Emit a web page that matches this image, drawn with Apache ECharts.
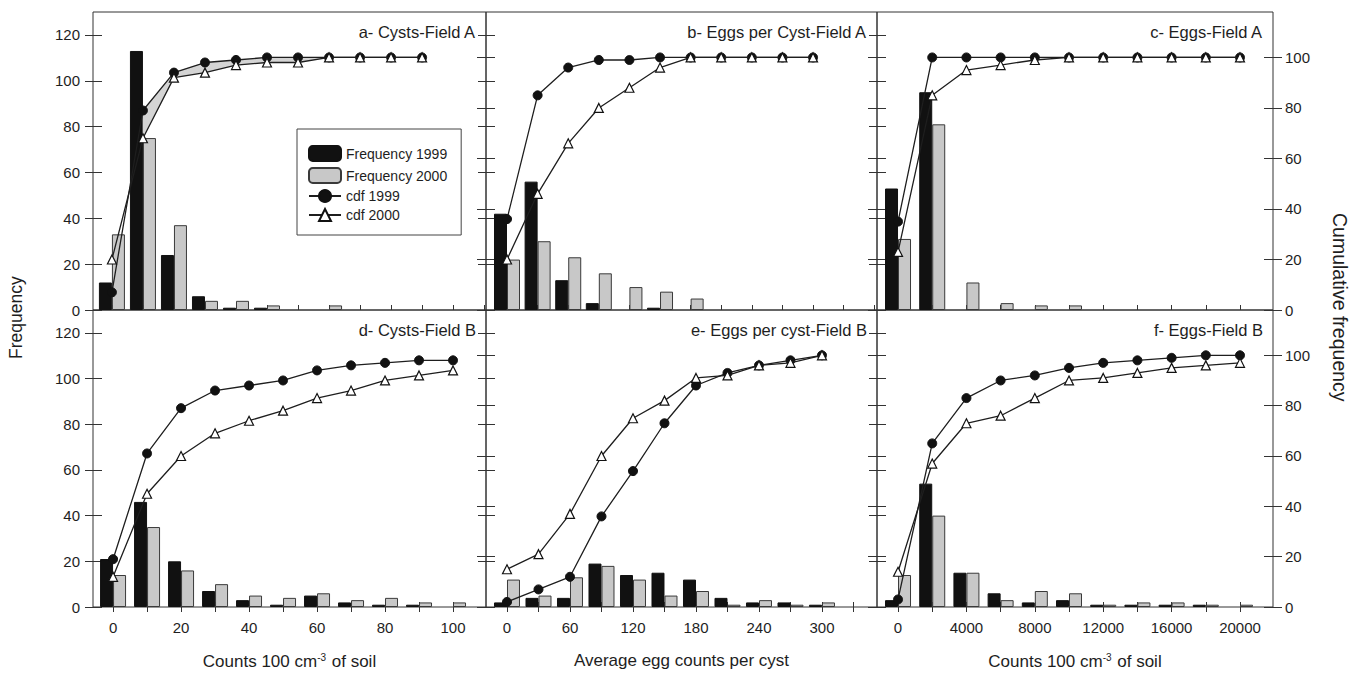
<!DOCTYPE html>
<html>
<head>
<meta charset="utf-8">
<script src="https://cdn.jsdelivr.net/npm/echarts@6/dist/echarts.min.js"></script>
<style>
  html, body { margin: 0; padding: 0; background: #fff; }
  #chart { width: 1355px; height: 674px; }
</style>
</head>
<body>
<div id="chart"></div>
<script>
// bin positions of each kind of panel
const xCysts = [0, 10, 20, 30, 40, 50, 60, 70, 80, 90, 100];
const xEggsPerCyst = [0, 30, 60, 90, 120, 150, 180, 210, 240, 270, 300];
const xEggs = [0, 2000, 4000, 6000, 8000, 10000, 12000, 14000, 16000, 18000, 20000];

// a- Cysts-Field A
const freqA99 = [12, 113, 24, 6, 1, 1, 0, 0, 0, 0, 0];
const freqA00 = [33, 75, 37, 4, 4, 2, 0, 2, 0, 0, 0];
const cdfA99 = [7, 79, 94, 98, 99, 100, 100, 100, 100, 100, 100];
const cdfA00 = [20, 68, 92, 94, 97, 98, 98, 100, 100, 100, 100];

// b- Eggs per Cyst-Field A
const freqB99 = [42, 56, 13, 3, 0, 1, 0, 0, 0, 0, 0];
const freqB00 = [22, 30, 23, 16, 10, 8, 5, 0, 0, 0, 0];
const cdfB99 = [36, 85, 96, 99, 99, 100, 100, 100, 100, 100, 100];
const cdfB00 = [20, 46, 66, 80, 88, 96, 100, 100, 100, 100, 100];

// c- Eggs-Field A
const freqC99 = [53, 95, 0, 0, 0, 0, 0, 0, 0, 0, 0];
const freqC00 = [31, 81, 12, 3, 2, 2, 0, 0, 0, 0, 0];
const cdfC99 = [35, 100, 100, 100, 100, 100, 100, 100, 100, 100, 100];
const cdfC00 = [23, 85, 95, 97, 99, 100, 100, 100, 100, 100, 100];

// d- Cysts-Field B
const freqD99 = [21, 46, 20, 7, 3, 1, 5, 2, 1, 1, 0];
const freqD00 = [14, 35, 16, 10, 5, 4, 6, 3, 4, 2, 2];
const cdfD99 = [19, 61, 79, 86, 88, 90, 94, 96, 97, 98, 98];
const cdfD00 = [12, 45, 60, 69, 74, 78, 83, 86, 90, 92, 94];

// e- Eggs per cyst-Field B
const freqE99 = [2, 4, 4, 19, 14, 15, 12, 4, 2, 2, 1];
const freqE00 = [12, 5, 13, 18, 12, 5, 7, 1, 3, 1, 2];
const cdfE99 = [2, 7, 12, 36, 54, 73, 88, 93, 96, 98, 100];
const cdfE00 = [15, 21, 37, 60, 75, 82, 91, 92, 96, 97, 100];

// f- Eggs-Field B
const freqF99 = [3, 54, 15, 6, 2, 3, 1, 1, 1, 1, 0];
const freqF00 = [14, 40, 15, 3, 7, 6, 1, 2, 2, 1, 1];
const cdfF99 = [3, 65, 83, 90, 92, 95, 97, 98, 99, 100, 100];
const cdfF00 = [14, 57, 73, 76, 83, 90, 91, 93, 95, 96, 97];

// tick values
const freqTicks = [0, 20, 40, 60, 80, 100, 120];
const cdfTicks = [0, 20, 40, 60, 80, 100];
const cystTicksTop = [0, 10, 20, 30, 40, 50, 60, 70, 80, 90, 100, 110, 120];
const cystTicks = [0, 10, 20, 30, 40, 50, 60, 70, 80, 90, 100];
const cystLabels = [0, 20, 40, 60, 80, 100];
const eggCystTicksTop = [0, 30, 60, 90, 120, 150, 180, 210, 240, 270, 300, 330, 360];
const eggCystTicks = [0, 30, 60, 90, 120, 150, 180, 210, 240, 270, 300, 330];
const eggCystLabels = [0, 60, 120, 180, 240, 300];
const eggTicks = [0, 2000, 4000, 6000, 8000, 10000, 12000, 14000, 16000, 18000, 20000];
const eggLabels = [0, 4000, 8000, 12000, 16000, 20000];

const FONT = '"Liberation Sans", Arial, sans-serif';
const INK = '#1e1e1e';

const colX = [93, 486, 877, 1273];
const rowY = [12, 310, 607];

const panels = [
  { title: 'a- Cysts-Field A', x: xCysts, f99: freqA99, f00: freqA00, c99: cdfA99, c00: cdfA00,
    col: 0, row: 0, min: -6.1, max: 120.6, ticks: cystTicksTop, band: true },
  { title: 'b- Eggs per Cyst-Field A', x: xEggsPerCyst, f99: freqB99, f00: freqB00, c99: cdfB99, c00: cdfB00,
    col: 1, row: 0, min: -20.6, max: 362.7, ticks: eggCystTicksTop },
  { title: 'c- Eggs-Field A', x: xEggs, f99: freqC99, f00: freqC00, c99: cdfC99, c00: cdfC00,
    col: 2, row: 0, min: -1230, max: 21930, ticks: eggTicks },
  { title: 'd- Cysts-Field B', x: xCysts, f99: freqD99, f00: freqD00, c99: cdfD99, c00: cdfD00,
    col: 0, row: 1, min: -5.9, max: 109.7, ticks: cystTicks, labels: cystLabels,
    name: 'Counts 100 cm{sup|-3} of soil' },
  { title: 'e- Eggs per cyst-Field B', x: xEggsPerCyst, f99: freqE99, f00: freqE00, c99: cdfE99, c00: cdfE00,
    col: 1, row: 1, min: -20, max: 352.4, ticks: eggCystTicks, labels: eggCystLabels,
    name: 'Average egg counts per cyst' },
  { title: 'f- Eggs-Field B', x: xEggs, f99: freqF99, f00: freqF00, c99: cdfF99, c00: cdfF00,
    col: 2, row: 1, min: -1230, max: 21930, ticks: eggTicks, labels: eggLabels,
    name: 'Counts 100 cm{sup|-3} of soil' }
];

const tickStyle = { color: '#333', width: 1 };
const labelStyle = { color: INK, fontFamily: FONT, fontSize: 15, formatter: (v) => String(v) };
const noLine = { show: false, onZero: false };

const grids = [], xAxes = [], yAxes = [], series = [], titles = [];

panels.forEach((p, i) => {
  const left = colX[p.col], right = colX[p.col + 1];
  const top = rowY[p.row], bottom = rowY[p.row + 1];
  grids.push({
    left: left, top: top, width: right - left, height: bottom - top,
    show: true, borderColor: '#333', borderWidth: 1, backgroundColor: 'transparent',
    outerBoundsMode: 'none', containLabel: false
  });

  titles.push({
    text: p.title, right: 1355 - right + 5, top: top + 6,
    textStyle: { fontFamily: FONT, fontWeight: 'normal', fontSize: 16.5, color: INK }
  });

  const isBottom = p.row === 1;
  // main x axis
  xAxes.push({
    type: 'value', gridIndex: i, min: p.min, max: p.max, position: 'bottom',
    splitLine: { show: false }, axisLine: noLine,
    axisTick: { show: true, inside: !isBottom, length: 5, lineStyle: tickStyle, customValues: p.ticks },
    axisLabel: isBottom
      ? Object.assign({ show: true, margin: 13, customValues: p.labels }, labelStyle)
      : { show: false },
    name: isBottom ? p.name : '', nameLocation: 'middle', nameGap: 45,
    nameTextStyle: {
      fontFamily: FONT, fontSize: 17, color: INK,
      rich: { sup: { fontFamily: FONT, fontSize: 10, color: INK, padding: [0, 1, 9, 0] } }
    }
  });
  // second x axis, only for the crossing ticks of the bottom row
  xAxes.push({
    type: 'value', gridIndex: i, min: p.min, max: p.max, position: 'bottom', show: isBottom,
    splitLine: { show: false }, axisLine: noLine, axisLabel: { show: false },
    axisTick: { show: true, inside: true, length: 5, lineStyle: tickStyle, customValues: p.ticks }
  });

  const freqBase = { type: 'value', gridIndex: i, min: 0, max: 130, position: 'left',
    splitLine: { show: false }, axisLine: noLine };
  yAxes.push(Object.assign({}, freqBase, {
    axisTick: { show: true, length: 8, lineStyle: tickStyle, customValues: freqTicks },
    axisLabel: p.col === 0
      ? Object.assign({ show: true, margin: 13, customValues: freqTicks }, labelStyle)
      : { show: false }
  }));
  yAxes.push(Object.assign({}, freqBase, {
    axisTick: { show: true, inside: true, length: 9, lineStyle: tickStyle, customValues: freqTicks },
    axisLabel: { show: false }
  }));
  const cdfBase = { type: 'value', gridIndex: i, min: 0, max: 118, position: 'right',
    splitLine: { show: false }, axisLine: noLine };
  yAxes.push(Object.assign({}, cdfBase, {
    axisTick: { show: true, length: 9, lineStyle: tickStyle, customValues: cdfTicks },
    axisLabel: p.col === 2
      ? Object.assign({ show: true, margin: 12, customValues: cdfTicks }, labelStyle)
      : { show: false }
  }));
  yAxes.push(Object.assign({}, cdfBase, {
    axisTick: { show: true, inside: true, length: 9, lineStyle: tickStyle, customValues: cdfTicks },
    axisLabel: { show: false }
  }));

  const xi = i * 2, yF = i * 4, yC = i * 4 + 2;
  const pairs = (vals) => p.x.map((v, j) => [v, vals[j]]).filter(d => d[1] > 0);

  series.push({
    name: 'Frequency 1999', type: 'bar', xAxisIndex: xi, yAxisIndex: yF,
    barWidth: 13, barGap: '0%', z: 2,
    itemStyle: { color: '#111', borderColor: '#111', borderWidth: 1 },
    data: pairs(p.f99)
  });
  series.push({
    name: 'Frequency 2000', type: 'bar', xAxisIndex: xi, yAxisIndex: yF,
    barWidth: 13, barGap: '0%', z: 2,
    itemStyle: { color: '#c8c8c8', borderColor: '#3a3a3a', borderWidth: 1 },
    data: pairs(p.f00)
  });

  if (p.band) {
    // shaded strip between the two cdf curves, one piece per bin interval (after they cross)
    const pieces = [];
    for (let j = 1; j < p.x.length - 1; j++) {
      pieces.push([p.x[j], p.c99[j], p.c00[j], p.x[j + 1], p.c99[j + 1], p.c00[j + 1]]);
    }
    series.push({
      name: 'band', type: 'custom', xAxisIndex: xi, yAxisIndex: yC, z: 3, silent: true,
      encode: { x: 0, y: 1 },
      renderItem: (params, api) => ({
        type: 'polygon',
        shape: { points: [
          api.coord([api.value(0), api.value(1)]),
          api.coord([api.value(3), api.value(4)]),
          api.coord([api.value(3), api.value(5)]),
          api.coord([api.value(0), api.value(2)])
        ] },
        style: { fill: '#d4d4d4', stroke: '#d4d4d4', lineWidth: 0.5 }
      }),
      data: pieces
    });
  }

  series.push({
    name: 'cdf 1999', type: 'line', xAxisIndex: xi, yAxisIndex: yC, z: 5,
    symbol: 'circle', symbolSize: 9,
    lineStyle: { color: INK, width: 1.3 },
    itemStyle: { color: '#111', borderColor: '#111', borderWidth: 1 },
    data: p.x.map((v, j) => [v, p.c99[j]])
  });
  series.push({
    name: 'cdf 2000', type: 'line', xAxisIndex: xi, yAxisIndex: yC, z: 6,
    symbol: 'triangle', symbolSize: 9,
    lineStyle: { color: INK, width: 1.3 },
    itemStyle: { color: '#fff', borderColor: '#111', borderWidth: 1.2 },
    data: p.x.map((v, j) => [v, p.c00[j]])
  });
});

const chart = echarts.init(document.getElementById('chart'), null, { renderer: 'svg' });
chart.setOption({
  animation: false,
  backgroundColor: '#fff',
  title: titles,
  grid: grids,
  xAxis: xAxes,
  yAxis: yAxes,
  legend: {
    data: ['Frequency 1999', 'Frequency 2000', 'cdf 1999', 'cdf 2000'],
    orient: 'vertical', left: 297, top: 129,
    padding: [16, 14, 13, 11], itemGap: 5, itemWidth: 32, itemHeight: 15,
    borderColor: '#444', borderWidth: 1, backgroundColor: '#fff',
    textStyle: { fontFamily: FONT, fontSize: 14, color: INK }
  },
  graphic: [
    { type: 'text', x: 7, y: 359, rotation: Math.PI / 2,
      style: { text: 'Frequency', fill: INK, font: '17.5px ' + FONT } },
    { type: 'text', x: 1350, y: 213, rotation: -Math.PI / 2,
      style: { text: 'Cumulative frequency', fill: INK, font: '19.5px ' + FONT } }
  ],
  series: series
});
</script>
</body>
</html>
